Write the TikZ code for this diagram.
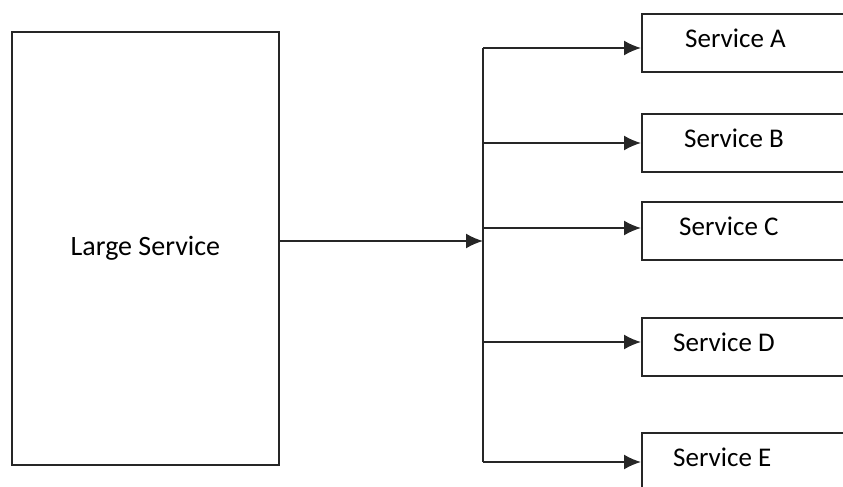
\documentclass[tikz,border=0pt]{standalone}
\usepackage{fontspec}
\setmainfont{Carlito}
\usetikzlibrary{arrows.meta,positioning}

\begin{document}
\begin{tikzpicture}[
    x=1pt, y=-1pt,
    box/.style={draw=black!85, line width=1.8pt, inner sep=0pt, anchor=north west, font=\fontsize{27}{32}\selectfont},
    svctext/.style={inner sep=0pt, anchor=west, font=\fontsize{27}{32}\selectfont},
    wire/.style={draw=black!85, line width=1.8pt},
    arrow/.style={wire, -{Latex[length=17pt, width=15pt]}}
]
\useasboundingbox (0,0) rectangle (843,487);
\clip (0,0) rectangle (843,487);

\node[box, minimum width=267pt, minimum height=433pt, font=\fontsize{28}{32}\selectfont] (large) at (11,31) {Large Service};

% services on the right, cut off by the page edge
\foreach \n/\ytop/\xtext/\yarr in {A/13/685/48, B/113/684/143, C/201/679/228, D/317/673/342, E/432/673/462} {
    \node[box, minimum width=230pt, minimum height=58pt] (svc\n) at (641,\ytop) {};
    \node[svctext] (txt\n) at (\xtext,\ytop+25) {Service \n};
    \coordinate (bus\n) at (483,\yarr);
    \draw[arrow] (bus\n) -- (bus\n -| svc\n.west);
}

\draw[wire] (busA) -- (busE);
\coordinate (busin) at (483,241);
\draw[arrow] (busin -| large.east) -- (busin);
\end{tikzpicture}
\end{document}
